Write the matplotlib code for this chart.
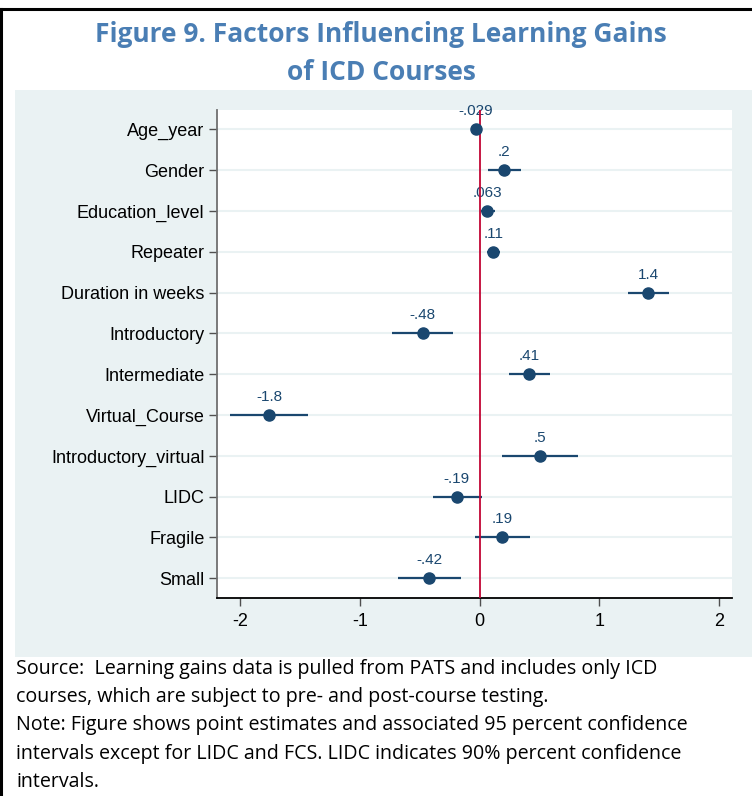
import numpy as np
import matplotlib
matplotlib.use("Agg")
import matplotlib.pyplot as plt
from matplotlib.patches import Rectangle
from matplotlib.lines import Line2D

# data
factors = ["Age_year", "Gender", "Education_level", "Repeater", "Duration in weeks",
           "Introductory", "Intermediate", "Virtual_Course", "Introductory_virtual",
           "LIDC", "Fragile", "Small"]
estimate = [-0.029, 0.204, 0.063, 0.114, 1.41, -0.475, 0.415, -1.76, 0.505, -0.19, 0.19, -0.42]
ci_low = [-0.041, 0.07, 0.008, 0.064, 1.244, -0.73, 0.248, -2.09, 0.184, -0.393, -0.042, -0.684]
ci_high = [-0.017, 0.343, 0.128, 0.167, 1.587, -0.22, 0.586, -1.434, 0.826, 0.017, 0.421, -0.156]
value_labels = ["-.029", ".2", ".063", ".11", "1.4", "-.48", ".41", "-1.8", ".5", "-.19", ".19", "-.42"]
xticks = [-2, -1, 0, 1, 2]

title_lines = ["Figure 9. Factors Influencing Learning Gains", "of ICD Courses"]
note_lines = ["Source:  Learning gains data is pulled from PATS and includes only ICD",
              "courses, which are subject to pre- and post-course testing.",
              "Note: Figure shows point estimates and associated 95 percent confidence",
              "intervals except for LIDC and FCS. LIDC indicates 90% percent confidence",
              "intervals."]

plt.rcParams['axes.unicode_minus'] = False
plt.rcParams['font.family'] = ['Liberation Sans', 'DejaVu Sans']

W, H = 752, 796
navy = '#1a476f'

fig = plt.figure(figsize=(W / 100, H / 100), dpi=100)
fig.patch.set_facecolor('white')

# stata-like graph region
fig.add_artist(Rectangle((15 / W, 1 - 657 / H), 1 - 15 / W, (657 - 90) / H,
                         transform=fig.transFigure, facecolor='#eaf2f3',
                         edgecolor='none', zorder=-5))
# black frame on top and left
fig.add_artist(Line2D([0, 1], [1 - 9 / H, 1 - 9 / H], transform=fig.transFigure,
                      color='black', lw=2.2))
fig.add_artist(Line2D([1 / W, 1 / W], [0, 1 - 9 / H], transform=fig.transFigure,
                      color='black', lw=2.2))

ax = fig.add_axes([217 / W, 1 - 598 / H, (732 - 217) / W, (598 - 110) / H])
ax.set_facecolor('white')

y = np.arange(len(factors))
ax.hlines(y, ci_low, ci_high, color=navy, lw=1.6, zorder=3)
ax.plot(estimate, y, 'o', color=navy, ms=8, zorder=5)
ax.axvline(0, color='#c10534', lw=1.3, zorder=4)

for xv, yv, lab in zip(estimate, y, value_labels):
    ax.annotate(lab, (xv, yv), xytext=(0, 13), textcoords='offset points',
                ha='center', va='center', fontsize=11, color=navy, zorder=2)

ax.set_xlim(-2.195, 2.11)
ax.set_ylim(11.483, -0.473)
ax.set_yticks(y)
ax.set_yticklabels(factors, fontsize=13)
ax.set_xticks(xticks)
ax.set_xticklabels([str(t) for t in xticks], fontsize=13)
ax.yaxis.grid(True, color='#eaf2f3', lw=1.5)
ax.set_axisbelow(True)

for s in ['top', 'right']:
    ax.spines[s].set_visible(False)
ax.spines['left'].set_color('#707070')
ax.spines['left'].set_linewidth(1.3)
ax.spines['bottom'].set_color('black')
ax.spines['bottom'].set_linewidth(1.3)
ax.tick_params(axis='y', length=6, width=1, color='#505050', pad=3)
ax.tick_params(axis='x', length=6, width=1, color='#505050', pad=5)

for i, line in enumerate(title_lines):
    fig.text(381 / W, 1 - (35 + 37 * i) / H, line, ha='center', va='center', fontsize=19,
             fontweight='bold', color='#4a7eb4', family=['Open Sans', 'DejaVu Sans'])

for i, line in enumerate(note_lines):
    fig.text(16 / W, 1 - (669 + 28.2 * i) / H, line, ha='left', va='center',
             fontsize=14.15, color='black', family=['Open Sans', 'DejaVu Sans'])

fig.savefig('out.png', dpi=100)
